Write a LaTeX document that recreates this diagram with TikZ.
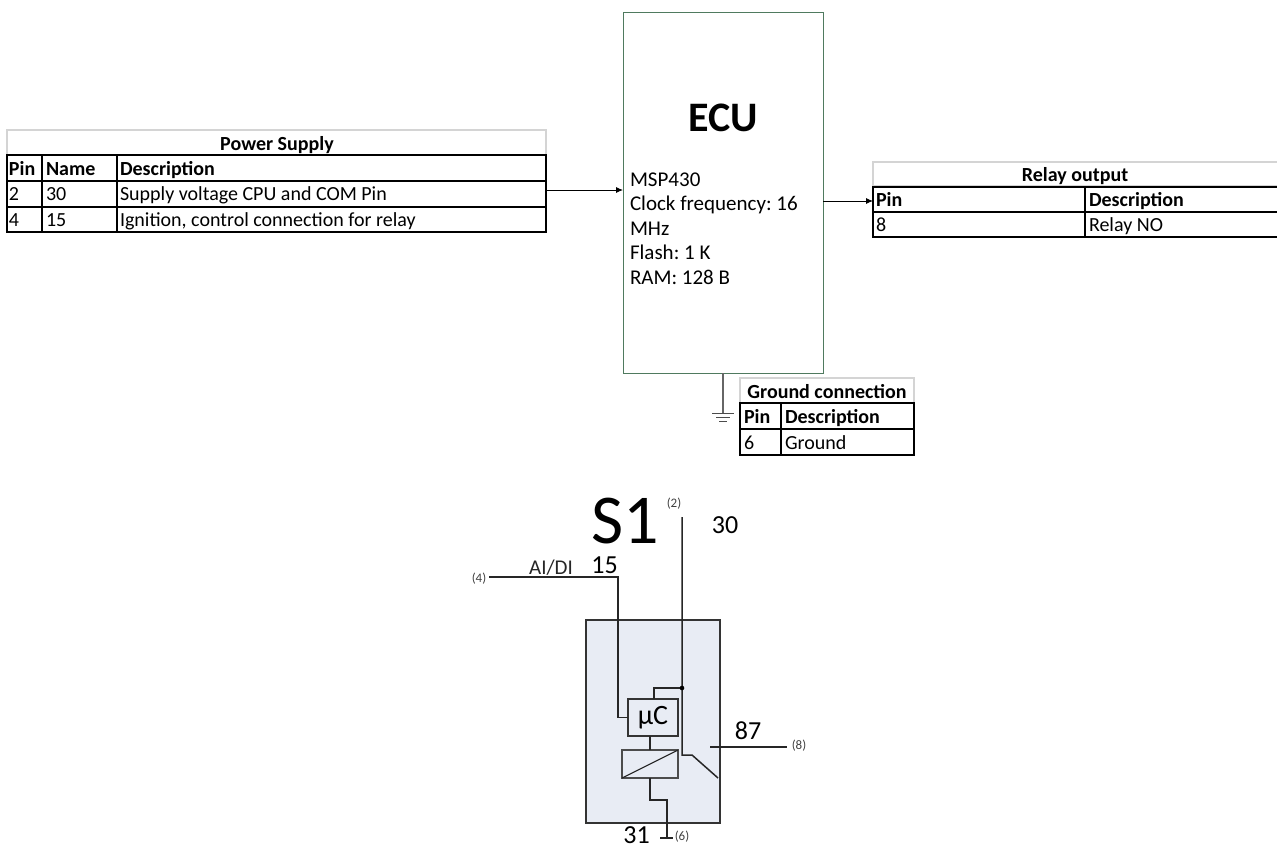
\documentclass[tikz,border=0pt]{standalone}
\usepackage{fontspec}
\setmainfont{Carlito}
\usetikzlibrary{arrows.meta}
\definecolor{ecugreen}{HTML}{4F7A5F}
\definecolor{boxfill}{HTML}{E8ECF4}
\definecolor{titleline}{HTML}{D4D4D4}
\tikzset{
  x=1pt,y=-1pt,
  every node/.style={inner sep=0pt,outer sep=0pt},
  titlecell/.style={draw=titleline,line width=1.3pt,fill=white},
  cell/.style={draw=black,line width=1.8pt},
  tb/.style={font=\frenchspacing\fontsize{20}{22}\selectfont\bfseries,anchor=west,text height=13pt,text depth=4pt},
  td/.style={font=\frenchspacing\fontsize{20}{22}\selectfont,anchor=west,text height=13pt,text depth=4pt},
  tc/.style={font=\frenchspacing\fontsize{20}{22}\selectfont\bfseries,anchor=center,text height=13pt,text depth=4pt},
  flow/.style={draw=black,line width=0.9pt,-{Latex[length=7pt,width=6pt]}},
  wire/.style={draw=black!85,line width=1.5pt},
  small/.style={font=\fontsize{13}{15}\selectfont,text=black!75},
  pinnum/.style={font=\fontsize{26}{30}\selectfont},
}
\begin{document}
\begin{tikzpicture}
\useasboundingbox (0,0) rectangle (1277,846);
% ECU
\node[draw=ecugreen,line width=0.9pt,minimum width=200pt,minimum height=361pt,anchor=north west] (ecu) at (623,12) {};
\node[font=\fontsize{42}{48}\selectfont\bfseries] (ecutitle) at (723,118) {ECU};
\node[font=\frenchspacing\fontsize{21}{24.6}\selectfont,align=left,anchor=north west] (ecutext) at (630,172.5) {MSP430\\Clock frequency: 16\\MHz\\Flash: 1 K\\RAM: 128 B};
% Power table
\node[titlecell,minimum width=539pt,minimum height=25pt,anchor=north west] (pt) at (7,130) {};
\node[tc] (ptt) at (277,146) {Power Supply};
\node[cell,minimum width=539pt,minimum height=77pt,anchor=north west] (power) at (7,155) {};
\draw[cell] (7,181) -- (546,181) (7,207) -- (546,207) (42,155) -- (42,232) (117,155) -- (117,232);
\node[tb] (p1) at (9,171) {Pin};
\node[tb] (p2) at (46,171) {Name};
\node[tb] (p3) at (120,171) {Description};
\node[td] (p4) at (9,196) {2};
\node[td] (p5) at (46,196) {30};
\node[td] (p6) at (120,196) {Supply voltage CPU and COM Pin};
\node[td] (p7) at (9,222) {4};
\node[td] (p8) at (46,222) {15};
\node[td] (p9) at (120,222) {Ignition, control connection for relay};
% Relay table
\node[titlecell,minimum width=410pt,minimum height=24pt,anchor=north west] (rt) at (873,162) {};
\node[tc] (rtt) at (1075,177) {Relay output};
\node[cell,minimum width=410pt,minimum height=50pt,anchor=north west] (relay) at (873,187) {};
\draw[cell] (873,212) -- (1283,212) (1085,187) -- (1085,237);
\node[tb] (r1) at (876,202) {Pin};
\node[tb] (r2) at (1089,202) {Description};
\node[td] (r3) at (876,227) {8};
\node[td] (r4) at (1089,227) {Relay NO};
% Ground table
\node[titlecell,minimum width=174pt,minimum height=25pt,anchor=north west] (gt) at (740,378) {};
\node[tc] (gtt) at (827,394) {Ground connection};
\node[cell,minimum width=174pt,minimum height=52pt,anchor=north west] (gnd) at (740,403) {};
\draw[cell] (740,429) -- (914,429) (781,403) -- (781,455);
\node[tb] (g1) at (744,419) {Pin};
\node[tb] (g2) at (785,419) {Description};
\node[td] (g3) at (744,445) {6};
\node[td] (g4) at (785,445) {Ground};
% Connectors
\coordinate (pout) at (546,190);
\draw[flow] (pout) -- (pout -| ecu.west);
\coordinate (rout) at (823,201);
\draw[flow] (rout) -- (rout -| relay.west);
\coordinate (gtop) at (ecu.south);
\coordinate (gbot) at (723,413);
\draw[draw=black!60,line width=1.1pt] (gtop) -- (gbot);
\draw[black!70,line width=0.9pt] (712,413) -- (734,413) (716,417) -- (730,417) (719,421) -- (727,421);
% Schematic
\node[draw=black!80,fill=boxfill,line width=1.3pt,minimum width=134pt,minimum height=203pt,anchor=north west] (mod) at (586,620) {};
\node[font=\fontsize{70}{78}\selectfont,anchor=center] (s1) at (625,521) {S1};
\node[pinnum] (n30) at (725,525) {30};
\node[pinnum] (n15) at (604.5,565) {15};
\node[font=\fontsize{21}{24}\selectfont,text=black!85] (aidi) at (551,568) {AI/DI};
\node[small] (l2) at (674,504) {(2)};
\node[small] (l4) at (479,579) {(4)};
\node[small] (l8) at (799,746) {(8)};
\node[small] (l6) at (682,837) {(6)};
\node[pinnum] (n87) at (748,731) {87};
\node[pinnum] (n31) at (636.5,835) {31};
\node[draw=black!80,line width=1.3pt,fill=boxfill,minimum width=50pt,minimum height=37pt,anchor=north west,font=\fontsize{28}{32}\selectfont] (uc) at (628,699) {µC};
\node[draw=black!70,line width=1.1pt,fill=boxfill,minimum width=56pt,minimum height=28pt,anchor=north west] (coil) at (622,750) {};
\draw[wire,line width=1.1pt] (coil.south west) -- (coil.north east);
\coordinate (w4) at (489,577);
\coordinate (w15) at (618,577);
\coordinate (w2) at (682,517);
\coordinate (junc) at (682,688);
\coordinate (sw1) at (682,755);
\coordinate (sw2) at (692,755);
\coordinate (sw3) at (718,778);
\coordinate (t87) at (710,747);
\coordinate (e87) at (787,747);
\coordinate (g6) at (667,838);
\coordinate (t6a) at (660,838);
\coordinate (t6b) at (673,838);
\draw[wire] (w4) -- (w15) |- (uc.west);
\draw[wire] (w2) -- (junc) -- (sw1) -- (sw2) -- (sw3);
\draw[wire] (junc) -| (654,699);
\fill[black] (junc) circle (2.3pt);
\draw[wire] (uc.south -| coil.south) -- (coil.north);
\draw[wire] (coil.south) -- (650,800) -| (g6);
\draw[wire] (t6a) -- (t6b);
\draw[wire] (t87) -- (e87);
\end{tikzpicture}
\end{document}
